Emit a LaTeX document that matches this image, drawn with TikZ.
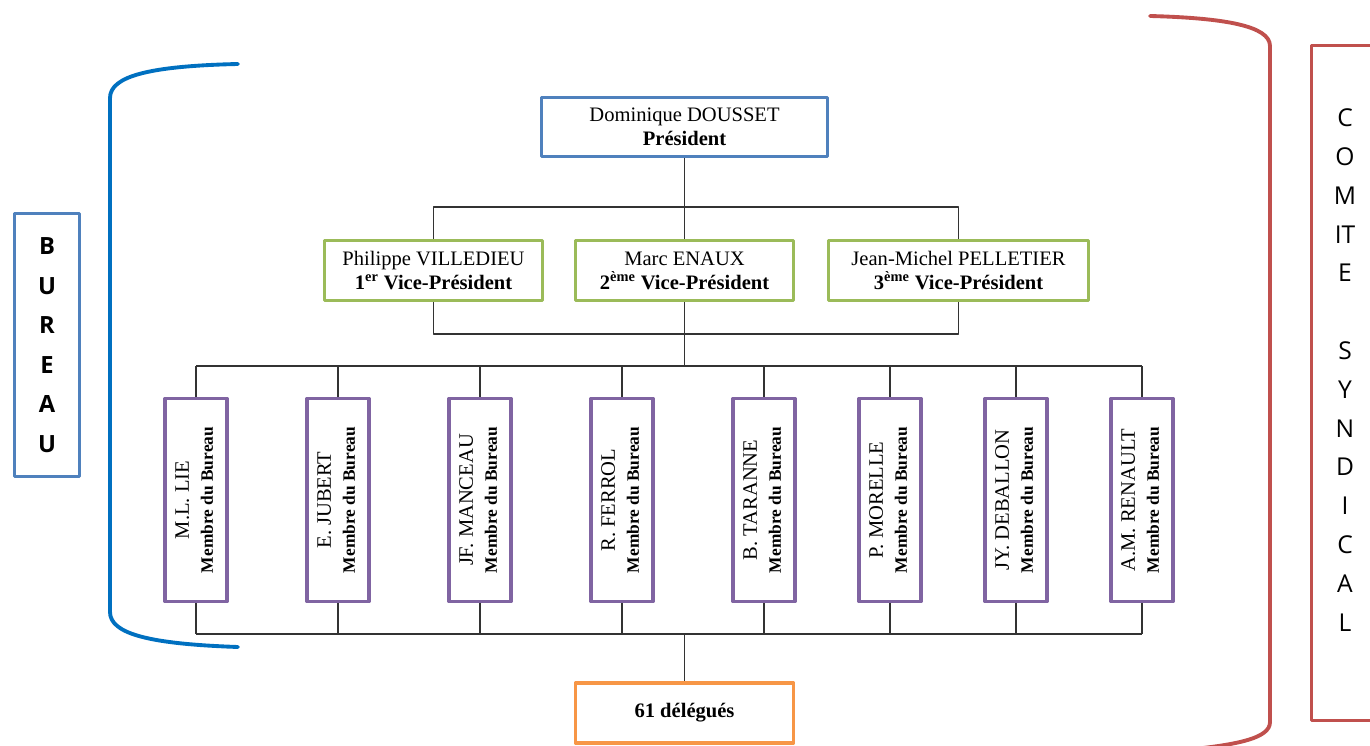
\documentclass[tikz,border=0pt]{standalone}
\usepackage{fontspec}
\setmainfont{Liberation Serif}
\newfontfamily\sidefont{Open Sans}
\usepackage{graphicx}
\definecolor{bleuP}{HTML}{4F81BD}
\definecolor{vertVP}{HTML}{9BBB59}
\definecolor{violetM}{HTML}{8064A2}
\definecolor{orangeD}{HTML}{F79646}
\definecolor{rougeC}{HTML}{C0504D}
\definecolor{bleuB}{HTML}{0070C0}
\tikzset{
  boite/.style={draw, line width=1.9pt, inner sep=0pt, align=center, font=\fontsize{11.7}{13.7}\selectfont},
  pres/.style={boite, draw=bleuP, minimum width=5.72cm, minimum height=1.18cm},
  vice/.style={boite, draw=vertVP, minimum height=1.2cm},
  membre/.style={boite, draw=violetM, minimum width=1.24cm, minimum height=4.06cm},
  deleg/.style={boite, draw=orangeD, minimum width=4.36cm, minimum height=1.2cm},
  lien/.style={line width=0.8pt, black!80},
  accolade/.style={line width=2.2pt, line cap=round},
}
\begin{document}
\begin{tikzpicture}[x=0.02cm, y=-0.02cm, line join=round]
\useasboundingbox (0,0) rectangle (1370,746);
\clip (0,0) rectangle (1370,746);
% president et vice-presidents
\node[pres] (pres) at (684.5,127) {Dominique DOUSSET\\\textbf{Président}};
\node[vice, minimum width=4.36cm] (vp1) at (433.5,270.5) {Philippe VILLEDIEU\\\textbf{1\textsuperscript{er} Vice-Président}};
\node[vice, minimum width=4.36cm] (vp2) at (684.5,270.5) {Marc ENAUX\\\textbf{2\textsuperscript{ème} Vice-Président}};
\node[vice, minimum width=5.2cm] (vp3) at (958.5,270.5) {Jean-Michel PELLETIER\\\textbf{3\textsuperscript{ème} Vice-Président}};
\draw[lien] (pres.south) -- (vp2.north);
\draw[lien] (vp1.north) -- ++(0,-32) -| (vp3.north);
\draw[lien] (vp1.south) -- ++(0,32) -| (vp3.south);
% membres du bureau
\foreach \x/\nom [count=\i] in {196/M.L. LIE, 338/E. JUBERT, 480/JF. MANCEAU, 622/R. FERROL,
    764/B. TARANNE, 890/P. MORELLE, 1016/JY. DEBALLON, 1142/A.M. RENAULT}
  \node[membre] (m\i) at (\x,500) {\rotatebox{90}{\begin{tabular}{@{}c@{}}\nom\\
    \fontsize{9.9}{11}\selectfont\textbf{Membre du Bureau}\end{tabular}}};
\coordinate (mhaut) at (684.5,366);
\coordinate (mbas) at (684.5,634);
\draw[lien] (vp2.south) -- (mhaut);
\draw[lien] (m1.north |- mhaut) -- (m8.north |- mhaut);
\draw[lien] (m1.south |- mbas) -- (m8.south |- mbas);
\foreach \i in {1,...,8}{\draw[lien] (m\i.north) -- (m\i.north |- mhaut) (m\i.south) -- (m\i.south |- mbas);}
% delegues
\node[deleg] (deleg) at (684.5,713) {\textbf{61 délégués}};
\draw[lien] (mbas) -- (deleg.north);
% bureau
\node[draw=bleuP, line width=1.9pt, minimum width=1.3cm, minimum height=5.26cm, inner sep=0pt, align=center,
  font=\sidefont\bfseries\fontsize{13.5}{22.5}\selectfont] (bureau) at (47,345) {B\\U\\R\\E\\A\\U};
\draw[accolade, bleuB] (238,64) .. controls (150,66) and (110,76) .. (110,98) -- (110,612)
  .. controls (110,634) and (150,644) .. (238,647);
% comite syndical
\draw[accolade, rougeC] (1150,16) .. controls (1225,18) and (1270,26) .. (1270,46) -- (1270,722)
  .. controls (1270,738) and (1240,746) .. (1160,752);
\draw[rougeC, line width=1.9pt] (1311.5,45.5) rectangle (1400,720.5);
\node[font=\sidefont\fontsize{14}{22.1}\selectfont, align=center] (comite) at (1345,370)
  {C\\O\\M\\IT\\E\\[22.1pt]S\\Y\\N\\D\\I\\C\\A\\L};
\end{tikzpicture}
\end{document}
